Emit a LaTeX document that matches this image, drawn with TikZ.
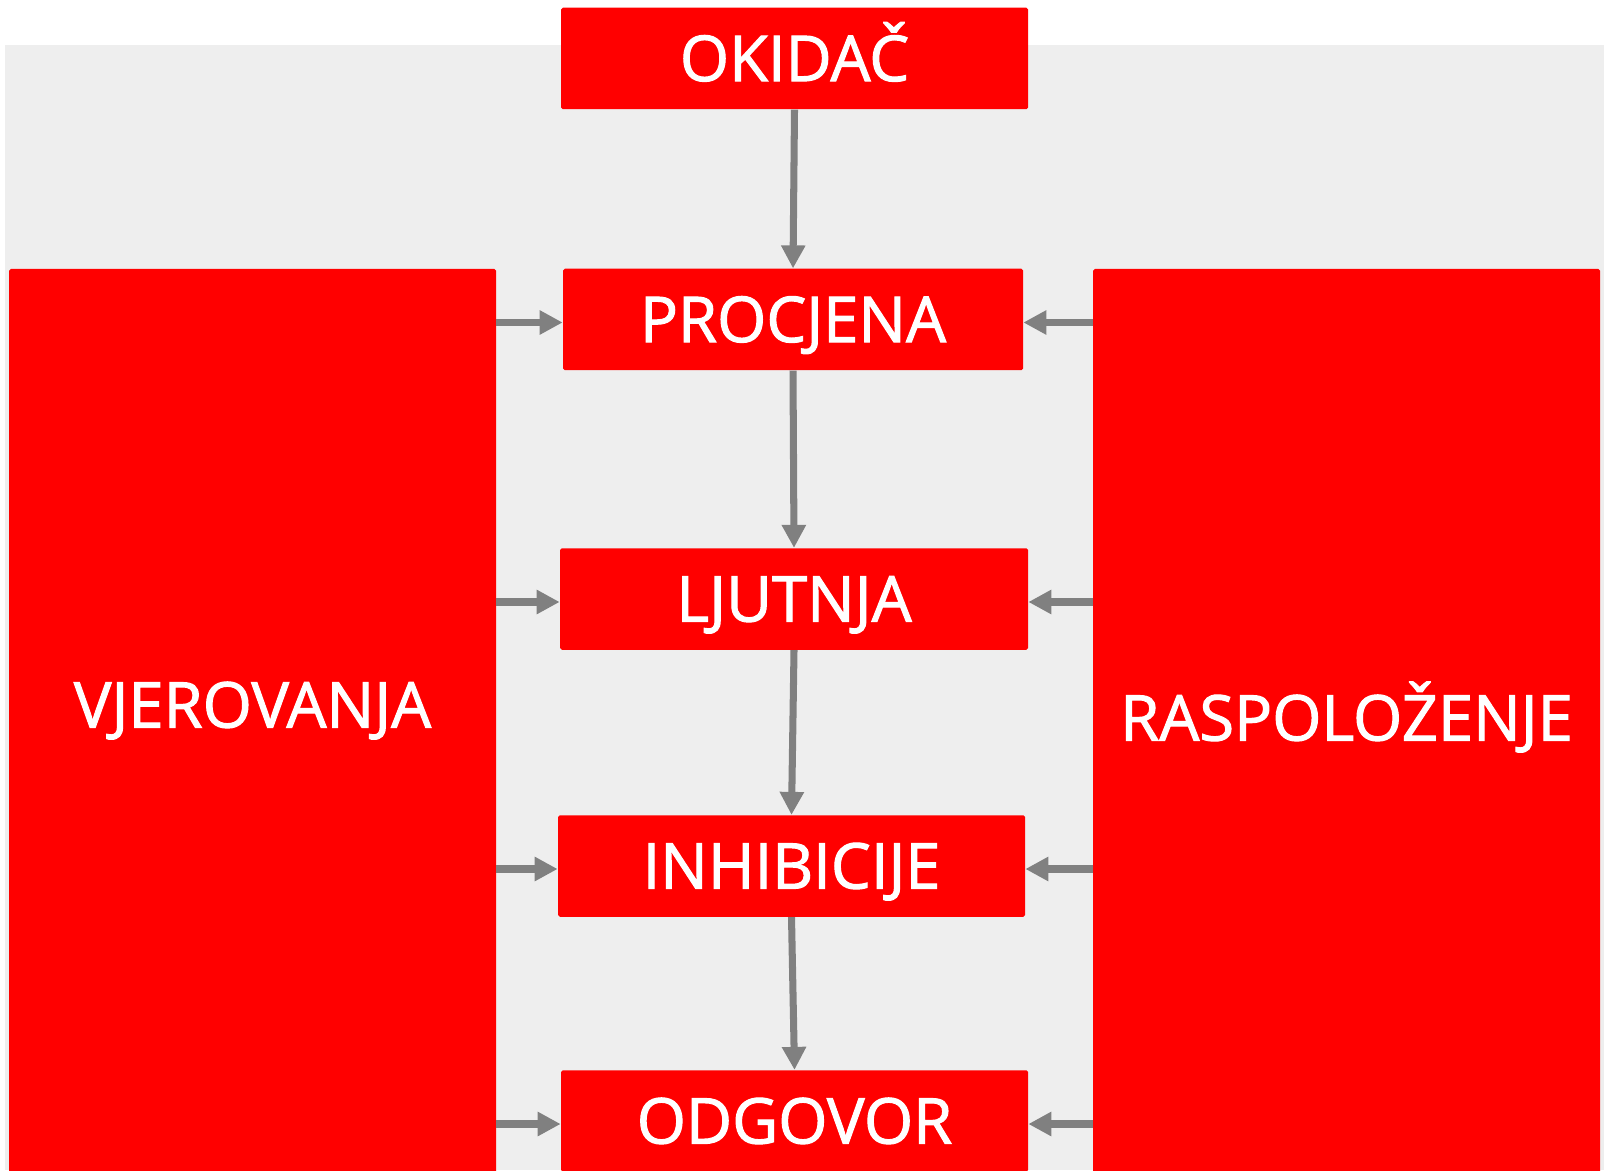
\documentclass[tikz,border=0pt]{standalone}
\usepackage{fontspec}
\setmainfont{Open Sans}
\newfontfamily\boxfont{Open Sans}[FakeBold=1.6]
\usetikzlibrary{arrows.meta}
\definecolor{boxred}{HTML}{FF0000}
\definecolor{linkgray}{HTML}{808080}
\definecolor{bggray}{HTML}{EEEEEE}
\begin{document}
\begin{tikzpicture}[
    box/.style={fill=boxred, rounded corners=1pt, text=white, inner sep=0pt,
        font=\boxfont\fontsize{36}{43}\selectfont, text height=25.7pt, text depth=0pt,
        minimum width=9.34cm, minimum height=2.03cm},
    bigbox/.style={fill=boxred, rounded corners=1pt, inner sep=0pt, minimum height=18.22cm},
    boxtext/.style={text=white, inner sep=0pt, font=\boxfont\fontsize{36}{43}\selectfont,
        text height=25.7pt, text depth=0pt},
    link/.style={linkgray, line width=4pt, -{Triangle[length=0.46cm, width=0.46cm]}}
]
            \useasboundingbox (0,0) rectangle (32.08,23.4);
            \fill[bggray] (0.1,0) rectangle (32.08,22.5);

            \node[bigbox, minimum width=9.74cm,
                label={[boxtext, name=vjertext, yshift=0.39cm]center:VJEROVANJA}] (vjer) at (5.05,8.91) {};
            \node[bigbox, minimum width=10.14cm,
                label={[boxtext, name=rasptext, yshift=0.13cm]center:RASPOLOŽENJE}] (rasp) at (26.93,8.91) {};

            \node[box] (okidac) at (15.89,22.23) {OKIDAČ};
            \node[box, minimum width=9.2cm] (procjena) at (15.86,17.01) {PROCJENA};
            \node[box, minimum width=9.36cm] (ljutnja) at (15.88,11.42) {LJUTNJA};
            \node[box] (inhib) at (15.83,6.08) {INHIBICIJE};
            \node[box] (odgovor) at (15.89,0.98) {ODGOVOR};

            \draw[link] (okidac.south) -- (procjena.north);
            \draw[link] (procjena.south) -- (ljutnja.north);
            \draw[link] (ljutnja.south) -- (inhib.north);
            \draw[link] (inhib.south) -- (odgovor.north);

            \foreach \b in {procjena,ljutnja,inhib,odgovor} {
                \draw[link] ([yshift=-0.06cm]vjer.east |- \b.west) -- ([yshift=-0.06cm]\b.west);
                \draw[link] ([yshift=-0.06cm]rasp.west |- \b.east) -- ([yshift=-0.06cm]\b.east);
            }
        \end{tikzpicture}
\end{document}
